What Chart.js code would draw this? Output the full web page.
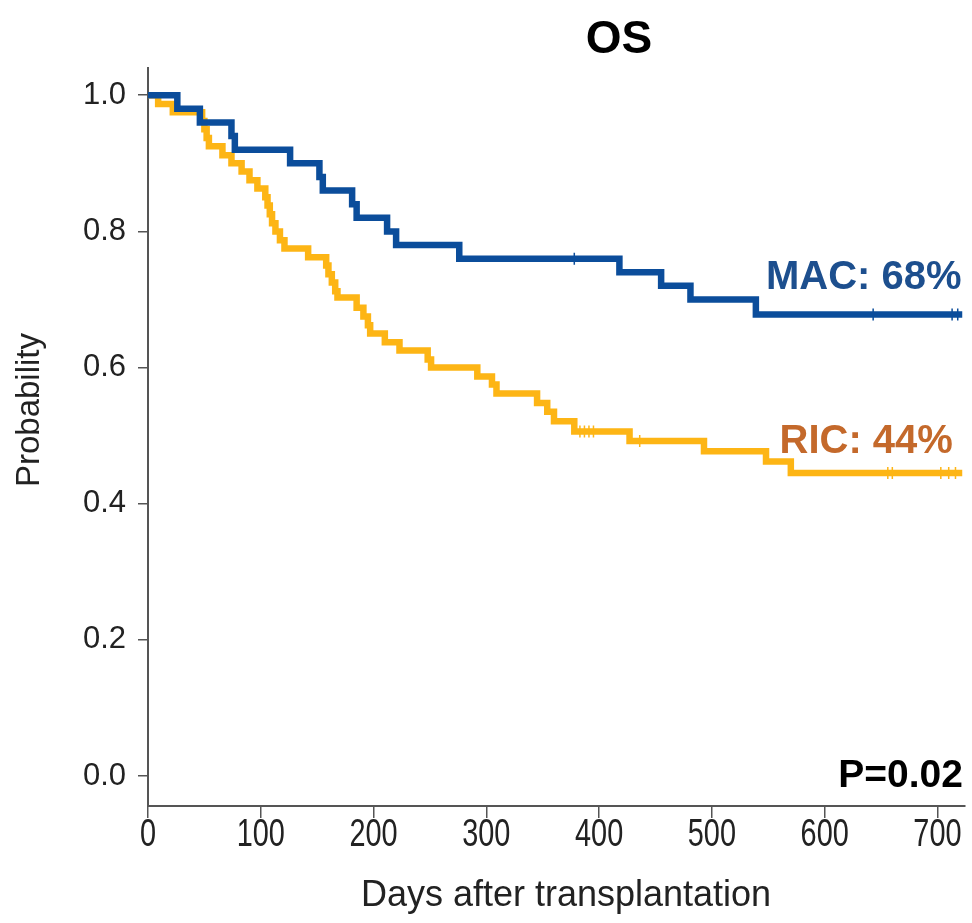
<!DOCTYPE html>
<html>
<head>
<meta charset="utf-8">
<script src="https://cdn.jsdelivr.net/npm/chart.js@4/dist/chart.umd.min.js"></script>
<style>
html,body{margin:0;padding:0;background:#ffffff;}
#wrap{width:972px;height:923px;position:relative;}
</style>
</head>
<body>
<div id="wrap"><canvas id="c" width="972" height="923"></canvas></div>
<script>
// ---- data ----
const chartTitle = "OS";
const xAxisTitle = "Days after transplantation";
const yAxisTitle = "Probability";
const pValueText = "P=0.02";
const macLabel = "MAC: 68%";
const ricLabel = "RIC: 44%";

const xTickValues = [0, 100, 200, 300, 400, 500, 600, 700];
const yTickValues = [0.0, 0.2, 0.4, 0.6, 0.8, 1.0];

const macDays = [0, 26, 46, 74, 77, 126, 152, 155, 181, 185, 212, 220, 276, 418, 455, 481, 539, 722];
const macSurv = [1.0, 0.98, 0.96, 0.94, 0.92, 0.90, 0.88, 0.86, 0.84, 0.82, 0.80, 0.78, 0.76, 0.74, 0.72, 0.70, 0.678, 0.678];
const macCensorDays = [378, 643, 713, 718];

const ricDays = [0, 9, 22, 48, 50, 52, 54, 66, 74, 83, 90, 97, 104, 106, 108, 110, 113, 117, 121, 142, 158, 160, 163, 166, 168, 185, 191, 195, 197, 210, 223, 248, 251, 292, 305, 309, 345, 354, 360, 378, 427, 493, 548, 570, 722];
const ricSurv = [1.0, 0.987, 0.975, 0.962, 0.950, 0.937, 0.925, 0.912, 0.90, 0.888, 0.875, 0.863, 0.850, 0.838, 0.825, 0.812, 0.80, 0.787, 0.775, 0.762, 0.750, 0.737, 0.725, 0.712, 0.703, 0.688, 0.675, 0.662, 0.650, 0.637, 0.625, 0.612, 0.600, 0.587, 0.575, 0.562, 0.548, 0.535, 0.521, 0.506, 0.492, 0.477, 0.462, 0.445, 0.445];
const ricCensorDays = [383, 387, 391, 395, 436, 656, 660, 703, 710, 716];

// ---- helpers ----
const MAC_COLOR = "#0b4d9b";
const RIC_COLOR = "#fdb515";
function toPoints(days, surv){ return days.map((d,i)=>({x:d, y:surv[i]})); }
function survAt(days, surv, t){
  let v = surv[0];
  for (let i=0;i<days.length;i++){ if (days[i] <= t) v = surv[i]; }
  return v;
}
function censorPoints(cDays, days, surv){ return cDays.map(t=>({x:t, y:survAt(days, surv, t)})); }

const PLOT_LEFT = 148, PLOT_RIGHT = 966, PLOT_TOP = 68, PLOT_BOTTOM = 806;

const textPlugin = {
  id: 'texts',
  afterDraw(chart){
    const ctx = chart.ctx;
    const x = chart.scales.x, y = chart.scales.y;
    ctx.save();
    ctx.textBaseline = 'middle';
    // title
    ctx.fillStyle = '#000';
    ctx.textAlign = 'center';
    ctx.font = 'bold 46px "Liberation Sans", Arial, sans-serif';
    ctx.fillText(chartTitle, 619, 40);
    // series labels
    ctx.textAlign = 'left';
    ctx.font = 'bold 40px "Liberation Sans", Arial, sans-serif';
    ctx.fillStyle = '#1d4f8e';
    ctx.fillText(macLabel, x.getPixelForValue(548), y.getPixelForValue(0.731));
    ctx.fillStyle = '#c4692b';
    ctx.fillText(ricLabel, x.getPixelForValue(560), y.getPixelForValue(0.490));
    // p value
    ctx.fillStyle = '#000';
    ctx.textAlign = 'right';
    ctx.font = 'bold 39px "Liberation Sans", Arial, sans-serif';
    ctx.fillText(pValueText, 963, y.getPixelForValue(0.0));
    // x tick labels (condensed, as in the reference)
    ctx.fillStyle = '#222';
    ctx.textAlign = 'center';
    ctx.textBaseline = 'top';
    ctx.font = '38px "Liberation Sans", Arial, sans-serif';
    x.ticks.forEach(t => {
      const px = x.getPixelForValue(t.value);
      ctx.save();
      ctx.translate(px, 817);
      ctx.scale(0.76, 1);
      ctx.fillText(String(t.value), 0, 0);
      ctx.restore();
    });
    // axis titles
    ctx.textBaseline = 'middle';
    ctx.font = '36px "Liberation Sans", Arial, sans-serif';
    ctx.fillText(xAxisTitle, 566, 896);
    ctx.translate(30, 410);
    ctx.rotate(-Math.PI/2);
    ctx.font = '33px "Liberation Sans", Arial, sans-serif';
    ctx.fillText(yAxisTitle, 0, 0);
    ctx.restore();
  }
};

new Chart(document.getElementById('c'), {
  type: 'line',
  data: {
    datasets: [
      { label:'MAC', data: toPoints(macDays, macSurv), borderColor: MAC_COLOR, borderWidth: 6.5, stepped: true, pointRadius: 0, fill:false, order: 0, borderJoinStyle:'miter', borderCapStyle:'butt' },
      { label:'MAC censored', type:'scatter', data: censorPoints(macCensorDays, macDays, macSurv), borderColor: MAC_COLOR, backgroundColor: MAC_COLOR, pointStyle:'line', rotation: 90, pointRadius: 6, borderWidth: 1.5, order: 0 },
      { label:'RIC', data: toPoints(ricDays, ricSurv), borderColor: RIC_COLOR, borderWidth: 6.5, stepped: true, pointRadius: 0, fill:false, order: 2, borderJoinStyle:'miter', borderCapStyle:'butt' },
      { label:'RIC censored', type:'scatter', data: censorPoints(ricCensorDays, ricDays, ricSurv), borderColor: RIC_COLOR, backgroundColor: RIC_COLOR, pointStyle:'line', rotation: 90, pointRadius: 6, borderWidth: 1.5, order: 1 }
    ]
  },
  options: {
    responsive: false,
    animation: false,
    devicePixelRatio: 1,
    layout: { padding: { top: PLOT_TOP, right: 972 - PLOT_RIGHT, left: 0, bottom: 0 } },
    plugins: { legend: { display: false }, tooltip: { enabled: false }, title: { display:false } },
    scales: {
      x: {
        type: 'linear', min: 0, max: 724,
        afterFit(s){ s.height = 923 - PLOT_BOTTOM; },
        afterBuildTicks(s){ s.ticks = xTickValues.map(v=>({value:v})); },
        grid: { display: true, drawOnChartArea: false, drawTicks: true, tickLength: 12, color: '#555', lineWidth: 1.5 },
        border: { display: true, color: '#555', width: 2 },
        ticks: { color: 'rgba(0,0,0,0)', padding: 4, font: { family: '"Liberation Sans", Arial, sans-serif', size: 30 }, maxRotation: 0, autoSkip: false, callback: v => String(v) }
      },
      y: {
        type: 'linear', min: -0.044, max: 1.04,
        afterFit(s){ s.width = PLOT_LEFT; },
        afterBuildTicks(s){ s.ticks = yTickValues.map(v=>({value:v})); },
        grid: { display: true, drawOnChartArea: false, drawTicks: true, tickLength: 10, color: '#555', lineWidth: 1.5 },
        border: { display: true, color: '#555', width: 2 },
        ticks: { color: '#222', padding: 12, font: { family: '"Liberation Sans", Arial, sans-serif', size: 31 }, autoSkip: false, callback: v => Number(v).toFixed(1) }
      }
    }
  },
  plugins: [textPlugin]
});
</script>
</body>
</html>
